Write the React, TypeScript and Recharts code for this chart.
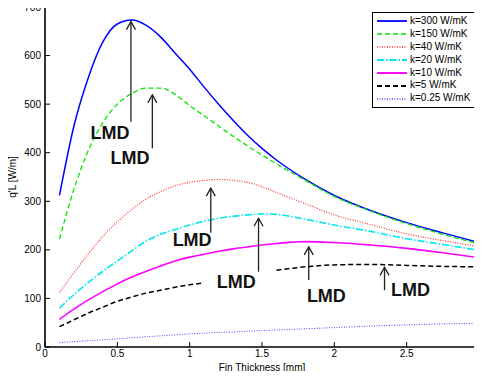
import {
  Legend,
  Line,
  LineChart,
  ReferenceArea,
  ReferenceDot,
  ReferenceLine,
  XAxis,
  YAxis,
} from 'recharts'

// fin thickness [mm]
const THICKNESS = [0.1, 0.2, 0.3, 0.4, 0.5, 0.6, 0.7, 0.8, 0.9, 1.0, 1.1, 1.2, 1.3, 1.4, 1.5, 1.6, 1.8, 2.0, 2.25, 2.5, 2.75, 3.0]

// q'L [W/m] per conductivity
const K300 = [312, 455, 555, 628, 665, 673, 662, 638, 605, 572, 535, 500, 467, 436, 409, 385, 345, 312, 281, 256, 235, 215]
const K150 = [222, 325, 405, 462, 500, 522, 533, 533, 520, 497, 476, 455, 434, 414, 395, 377, 343, 310, 280, 254, 232, 212]
const K40 = [112, 153, 192, 228, 258, 283, 305, 320, 332, 339, 343, 345, 343, 339, 330, 318, 295, 272, 252, 233, 219, 207]
const K20 = [80, 108, 133, 156, 177, 198, 218, 232, 242, 251, 259, 265, 269, 272, 274, 273, 263, 251, 238, 223, 211, 199]
const K10 = [57, 78, 97, 114, 130, 144, 156, 167, 177, 185, 191, 197, 202, 206, 210, 213, 217, 215, 210, 203, 194, 184]
const K5 = [42, 56, 70, 82, 94, 103, 111, 117, 123, 128, 132, null, null, null, null, 158, 165, 169, 170, 168, 166, 165]
const K025 = [9, 11, 13, 15, 17, 19, 21, 23, 25, 27, 28.5, 30, 31, 32.5, 34, 35, 37.5, 40, 43, 45.5, 47.5, 49]

const X_TICKS = [0, 0.5, 1, 1.5, 2, 2.5, 3]
const Y_TICKS = [0, 100, 200, 300, 400, 500, 600, 700]

// LMD arrows: x, arrow base, arrow tip; label centre
const LMD_X = [0.594, 0.742, 1.146, 1.476, 1.823, 2.347]
const LMD_BASE = [464, 409, 235, 155, 138, 117]
const LMD_TIP = [670, 519, 327, 265, 206, 164]
const LMD_LABEL_X = [0.449, 0.587, 1.017, 1.322, 1.945, 2.527]
const LMD_LABEL_Y = [441, 389, 220, 134, 105, 117]

const SERIES = [
  { key: 'k300', name: 'k=300 W/mK', values: K300, color: '#0000ff', dash: undefined, width: 1.5 },
  { key: 'k150', name: 'k=150 W/mK', values: K150, color: '#00e600', dash: '5 3', width: 1.3 },
  { key: 'k40', name: 'k=40 W/mK', values: K40, color: '#ff3030', dash: '1 1.5', width: 1.2 },
  { key: 'k20', name: 'k=20 W/mK', values: K20, color: '#00e8f0', dash: '7 2 1.5 2', width: 1.6 },
  { key: 'k10', name: 'k=10 W/mK', values: K10, color: '#ff00ff', dash: undefined, width: 1.6 },
  { key: 'k5', name: 'k=5 W/mK', values: K5, color: '#000000', dash: '5 3', width: 1.5 },
  { key: 'k025', name: 'k=0.25 W/mK', values: K025, color: '#4a4aff', dash: '1 1.5', width: 1 },
]

const data = THICKNESS.map((t, i) => {
  const row: Record<string, number | null> = { t }
  SERIES.forEach((s) => (row[s.key] = s.values[i]))
  return row
})

const FONT = 'Arial, "Liberation Sans", sans-serif'
const TICK = { fill: '#000', fontSize: 10, fontFamily: FONT }

type VB = { viewBox?: { x: number; y: number; width: number; height: number } }

function Arrow(p: { x1?: number; y1?: number; x2?: number; y2?: number }) {
  const { x1 = 0, y1 = 0, x2 = 0, y2 = 0 } = p
  return (
    <g stroke="#222" strokeWidth={1.3} fill="none">
      <line x1={x1} y1={y1} x2={x2} y2={y2} />
      <polyline points={`${x2 - 4.5},${y2 + 8} ${x2},${y2} ${x2 + 4.5},${y2 + 8}`} />
    </g>
  )
}

function LmdText(p: { cx?: number; cy?: number }) {
  return (
    <text
      x={p.cx}
      y={p.cy}
      textAnchor="middle"
      dominantBaseline="central"
      fontFamily={FONT}
      fontWeight="bold"
      fontSize={18}
      fill="#111"
    >
      LMD
    </text>
  )
}

function YLabel({ viewBox }: VB) {
  if (!viewBox) return null
  const x = viewBox.x + 16
  const y = viewBox.y + viewBox.height / 2
  return (
    <text x={x} y={y} transform={`rotate(-90 ${x} ${y})`} textAnchor="middle" fontSize={10} fontFamily={FONT} fill="#000">
      q'L [W/m]
    </text>
  )
}

function XLabel({ viewBox }: VB) {
  if (!viewBox) return null
  return (
    <text x={viewBox.x + viewBox.width / 2} y={viewBox.y + 24} textAnchor="middle" fontSize={10} fontFamily={FONT} fill="#000">
      Fin Thickness [mm]
    </text>
  )
}

function LegendBox() {
  return (
    <div
      style={{
        border: '1px solid #000',
        background: '#fff',
        padding: '2px 4px 2px 4px',
        fontFamily: FONT,
        fontSize: 10,
        lineHeight: '12.9px',
        color: '#000',
      }}
    >
      {SERIES.map((s) => (
        <div key={s.key} style={{ display: 'flex', alignItems: 'center', height: 12.9, whiteSpace: 'nowrap' }}>
          <svg width={30} height={6} style={{ marginRight: 3 }}>
            <line x1={0} y1={3} x2={30} y2={3} stroke={s.color} strokeWidth={s.width + 0.3} strokeDasharray={s.dash} />
          </svg>
          <span>{s.name}</span>
        </div>
      ))}
    </div>
  )
}

export default function App() {
  return (
    <div style={{ margin: -8, background: '#fff', width: 482, height: 379 }}>
      <LineChart width={482} height={379} data={data} margin={{ top: 0, right: 0, bottom: 0, left: 0 }}>
        <XAxis
          dataKey="t"
          type="number"
          domain={[0, 3]}
          ticks={X_TICKS}
          interval={0}
          tick={TICK}
          stroke="#000"
          tickSize={-5}
          tickMargin={8}
          height={32}
          label={{ content: <XLabel /> }}
        />
        <XAxis
          xAxisId="top"
          orientation="top"
          dataKey="t"
          type="number"
          domain={[0, 3]}
          ticks={X_TICKS}
          interval={0}
          tick={false}
          stroke="#000"
          tickSize={-5}
          height={7}
        />
        <YAxis
          type="number"
          domain={[0, 700]}
          ticks={Y_TICKS}
          interval={0}
          tick={TICK}
          stroke="#000"
          tickSize={-5}
          tickMargin={9}
          width={45}
          label={{ content: <YLabel /> }}
        />
        <YAxis
          yAxisId="right"
          orientation="right"
          type="number"
          domain={[0, 700]}
          ticks={Y_TICKS}
          interval={0}
          tick={false}
          stroke="#000"
          tickSize={-5}
          width={3}
        />
        <ReferenceArea x1={0} x2={3} y1={0} y2={700} stroke="#000" strokeWidth={1.2} fill="none" ifOverflow="visible" />
        {SERIES.map((s) => (
          <Line
            key={s.key}
            dataKey={s.key}
            name={s.name}
            type="monotone"
            stroke={s.color}
            strokeWidth={s.width}
            strokeDasharray={s.dash}
            dot={false}
            activeDot={false}
            connectNulls={false}
            isAnimationActive={false}
          />
        ))}
        {LMD_X.map((x, i) => (
          <ReferenceLine
            key={`a${i}`}
            segment={[
              { x, y: LMD_BASE[i] },
              { x, y: LMD_TIP[i] },
            ]}
            shape={<Arrow />}
          />
        ))}
        {LMD_LABEL_X.map((x, i) => (
          <ReferenceDot key={`l${i}`} x={x} y={LMD_LABEL_Y[i]} r={1} shape={<LmdText />} />
        ))}
        <Legend
          layout="vertical"
          align="center"
          verticalAlign="middle"
          content={<LegendBox />}
          wrapperStyle={{ left: 372, top: 12, right: 'auto', bottom: 'auto', width: 'auto' }}
        />
      </LineChart>
    </div>
  )
}
